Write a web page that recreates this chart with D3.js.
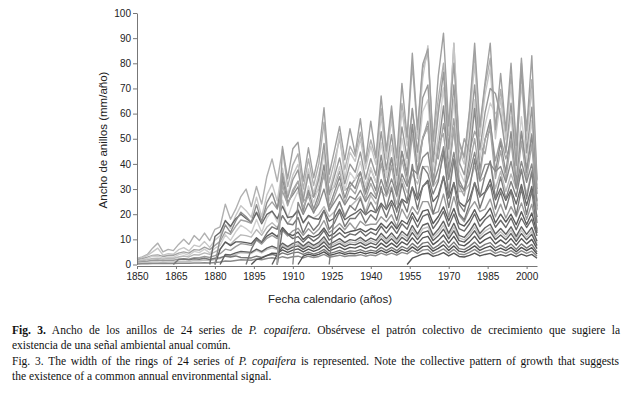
<!DOCTYPE html>
<html>
<head>
<meta charset="utf-8">
<script src="https://cdn.jsdelivr.net/npm/d3@7"></script>
<style>
  body { margin: 0; background: #fff; }
  svg { display: block; }
</style>
</head>
<body>
<svg id="chart" width="633" height="396"></svg>
<script>
// ring width (mm/año) of each series, one value every 2 years from its first year
var s01 = [2.4,3,4,6.5,8.5,5,6,5.5,8,10, 8,11.5,9.5,12.5,9.5,14,15,24,18,22, 27,30,23,31,24,35,42,33,46,31,
  39.6,44,30,42,31.4,40,56.6,32.6,41,50, 37.8,47,43,52.6,40,49.5,42,62,44,60.7, 41.6,64,49.7,79.5,52.6,78,84,48,66,80,
  54,88,48,42,60,84,53.6,71,82,52.6, 69.6,52,75,46,75,52,73.5,33];
var s02 = [2.2,2.7,3.6,5,6.5,3.7,4.3,4.1,5.9,6.7, 5.4,7.7,7.1,9.1,6.8,9.7,11.4,17.6,14.4,19.4, 23.4,21.4,18.8,26.8,19,27.7,32,25.3,38.3,27.9,
  35.6,39.8,27.1,38,28.3,36,45,29.3,37.1,52, 34,44.6,41,50,38,47,39.7,59,42,57.7, 39.5,61,47.2,60,50,74,87,45.6,62.7,70,
  51.3,88,45.6,39.9,57,79.8,50.9,67.5,78.2,50, 66,49.6,71.6,44,71.6,49.6,69.8,31.4];
var s03 = [2,2.3,2.9,3.6,3.8,3.2,3.6,3.6,4.5,5, 4.5,5.9,5.7,6.9,5.9,7.6,9.2,13,12,15.2, 17.7,17.2,16.4,20.9,17.4,22.3,24.9,22,29,24.2,
  28.7,33,24.8,28,27,30,35,29,30.9,37, 29.6,31,34,36.8,29,38,32.7,40,36,42.5, 36,45,37,55,41.2,50,57,45,42,56,
  44,58,39.6,50,45,53,48,44,56,41.2, 50,42,49,40,53,39,52,30];
var s04 = [1.4,1.8,2.4,3.3,3.3,2.5,2.9,2.8,3.9,4.4, 3.6,5.2,4.7,6.1,4.6,6.5,7.6,11.8,9.6,13, 15.6,14.3,12.5,17.9,12.7,18.5,21.3,16.9,25.6,18.6,
  24.6,29.2,21.1,31.2,24.5,31.2,44.1,25.4,32.1,38.9, 29.5,36.6,33.7,41,31.2,38.6,32.6,48.4,34.6,47.3, 32.4,50.2,38.8,62,41,60.8,65.5,37.4,51.5,70.2,
  42.1,65.5,37.4,32.8,46.8,65.5,41.8,55.4,64.2,60, 62,45,58.8,36.2,58.8,40.7,57.3,25.7];
var s05 = [1.3,1.6,1.9,2.4,2.5,2.1,2.4,2.4,3,3.4, 3,3.9,3.8,4.6,4,5,6.1,8.7,8,10.1, 11.8,11.5,10.9,13.9,11.6,14.9,16.6,14.7,19.4,16.2,
  19.1,22,16.6,19,18.5,20,23,19,21,24.5, 19.8,23,25,27,21,27.5,24,29,27,31.2, 24,34,28.5,36,32,38.9,39,31,34,44,
  30,42,29,29,32,39,33,35,41,30.2, 37,29,36,30,38,28,37.5,22];
var s06 = [0.9,1.1,1.3,1.7,1.8,1.5,1.7,1.7,2.1,2.3, 2.1,2.7,2.7,3.2,2.8,3.5,4.3,6.1,5.6,7.1, 8.3,8,7.6,9.7,8.1,10.4,11.6,10.3,13.5,11.3,
  13.4,14.4,11.6,14.2,12.1,14,17.5,12.6,14.4,16.3, 13.8,16.5,14,17.2,15.5,16,16,19,17,19.8, 15,22,18.2,23,20,25,25,20,21,28,
  19,27,19.5,17,22,25,21,22,26,19, 24,18.5,23,19,24.5,18,24,14];
var s07 = [0.5,0.6,0.8,1,1,0.8,1,1,1.2,1.3, 1.2,1.6,1.5,1.8,1.6,2,2.4,3.5,3.2,4, 4.7,4.6,4.4,5.6,4.6,5.9,6.6,5.9,7.7,6.5,
  7.6,8.2,6.6,8.1,6.9,8,10,7.2,8.2,9.3, 7.9,9,8.6,9.8,8.3,9.5,8.7,11.3,9.2,11.3, 9.2,12,10.4,14.1,11,14.2,14.9,10.6,12.7,15.6,
  11.3,14.9,10.6,9.8,12,14.9,11.2,13.3,14.6,11, 13,10.9,13.7,10.2,13.7,10.9,13.3,8.4];
var s08 = [0.2,0.3,0.3,0.4,0.4,0.4,0.4,0.4,0.5,0.5, 0.5,0.6,0.6,0.7,0.6,0.8,1,1.4,1.3,1.6, 1.9,1.8,1.7,2.2,1.9,2.4,2.7,2.3,3.1,2.6,
  3.1,3.3,2.6,3.3,2.8,3.2,4,2.9,3.3,3.7, 3.2,3.6,3.5,3.9,3.3,3.8,3.5,4.5,3.7,4.5, 3.7,4.8,4.2,5.6,4.4,5.7,6,4.2,5.1,6.2,
  4.5,6,4.2,3.9,4.8,6,4.5,5.3,5.8,4.4, 5.2,4.4,5.5,4.1,5.5,4.4,5.3,3.3];
var s09 = [0,2,2.2, 1.9,2.3,2.1,2.5,2,2.5,2.7,3.3,3,3.4, 2.8,2.7,2.6,3.3,2.8,3.6,4,3.5,4.6,3.9,
  4.6,4.9,4,4.9,4.1,4.8,6,4.3,4.9,5.6, 4.7,5.4,5.2,5.9,5,5.7,5.2,6.8,5.5,6.8, 5.5,7.2,6.2,8.4,6.6,8.5,8.9,6.3,7.6,9.4,
  6.8,8.9,6.3,5.9,7.2,8.9,6.7,8,8.7,6.6, 7.8,6.5,8.2,6.1,8.2,6.5,8,5];
var s10 = [0,11.1,12.8,17.4,15.2,18.2, 20,18.3,16.8,20.6,16.2,19.9,21.2,18.2,23.2,18.7,
  19.1,21.5,16.6,19.5,18.3,18,21.5,17.2,18.5,22, 17.8,19.3,20.4,22.1,19.8,21.5,20.6,24.4,21.8,25.5,
  21.6,26,24.4,30.7,25.7,30.9,33.5,25,27.6,35.1, 26.4,32.5,24.8,23.1,26,32.5,27,28.8,33.8,25.7,
  30.3,25.5,29.8,24,31.8,23.5,31,18.8];
var s11 = [0,6,9,7.5,9, 9,8.7,8.3,10.6,8.8,11.3,12.6,11.1,14.7,12.3,
  11.5,12.9,9.9,11.7,10.9,12,14.5,11.3,12.4,14.5, 12.4,13.1,13.5,14.2,13,14.3,13.6,16.4,14.4,17,
  14.2,17.5,16.1,20.6,17,21.2,21.8,16.3,19.1,22.9, 17.4,22.3,16.3,15.3,18,21.8,17.3,19.4,22.4,16.5,
  20,16.9,20,15.8,21,15.9,20.5,12.5];
var s12 = [0,10.2,15.7,12.8,17.3, 20.8,19,16.7,23.8,16.9,24.6,28.4,22.5,34.1,24.8,
  27.7,30.9,21.1,29.5,22,28,39.6,22.8,28.8,34.9, 26.5,32.8,30.2,36.8,28,34.7,29.3,43.5,31,42.5,
  29.1,45,34.8,55.7,36.8,50,55,33.6,46.2,63, 37.8,54,33.6,29.4,42,62,37.5,49.7,57.6,36.8,
  48.7,36.5,52.8,32.5,52.8,36.5,51.5,23.1];
var s13 = [0,4,3.8,4.6, 5.2,5,4.8,6.1,5.1,6.5,7.3,6.4,8.5,7.1,
  8.4,9.1,7.3,9,7.6,8.8,11,7.9,9.1,10.3, 8.7,9.9,9.5,10.8,9.2,10.5,9.6,12.4,10.2,12.5,
  10.1,13.2,11.4,15.5,12.1,15.6,16.4,11.6,14,17.2, 12.4,16.4,11.6,10.8,13.2,16.4,12.3,14.6,16,12.1,
  14.3,12,15,11.2,15,12,14.7,9.2];
var s14 = [0,6,10,9,12.5,15,14,19.4,16.2,
  15.8,18.7,12.5,16.9,13.6,16,21.6,14,16.5,21, 15.1,18.3,18.3,21,16.5,19.8,17.7,23.8,18.7,24.3,
  17.6,25.7,20.9,30.8,22,31.2,32.6,20.2,26.4,35, 22.6,32.6,20.2,17.8,24,32.6,22.4,28.4,31.9,22,
  28.8,21.9,29.2,19.6,30.2,19.9,29.4,13.2];
var s15 = [0,2,2.5,3.5,4.5,4.4,5.8,4.8,
  5.7,6.2,5,6.1,5.2,6,7.5,5.4,6.2,7, 5.9,6.8,6.5,7.4,6.3,7.2,6.5,8.5,6.9,8.5,
  6.9,9,7.8,10.6,8.2,10.6,11.2,7.9,9.5,11.7, 8.5,11.2,7.9,7.4,9,11.2,8.4,9.9,10.9,8.2,
  9.8,8.2,10.3,7.7,10.3,8.2,10,6.3];
var s16 = [0,36.2,26.4,
  33.7,37.6,25.6,35.9,26.7,34,48.1,27.7,35,42.4, 32.1,39.9,36.7,44.7,34,42.1,35.5,52.8,37.7,51.6,
  35.4,54.7,42.2,62,44.7,66.3,71.4,40.8,60,76.5, 45.9,71.4,40.8,35.7,51,71.4,45.6,60.4,70,68,
  59.2,44.4,64.1,39.4,80,44.4,62.5,28];
var s17 = [0,32,23.3,
  29.7,33.2,22.6,27.4,20.4,26,36.8,21.2,26.8,32.4, 24.6,30.5,28.1,34.2,26,32.2,27.2,40.4,28.8,39.5,
  27,41.8,32.3,51.7,34.2,50.7,54.6,31.2,48,52, 35.1,54.6,31.2,27.3,39,50,34.8,50,53.5,34.2,
  45.2,33.9,49,30.2,49,33.9,47.8,21.5];
var s18 = [0,14,12,
  10.3,11.1,8.9,11,9.3,10.8,13.5,9.7,11.1,12.6, 10.7,12.2,11.7,13.3,11.3,12.9,11.8,15.2,12.5,15.3,
  12.4,16.2,14,19,14.8,19.1,20.1,14.3,17.2,21.1, 15.2,20.1,14.3,13.3,16.2,20.1,15.1,17.9,19.7,14.8,
  17.6,14.7,18.5,13.8,18.5,14.7,18,11.3];
var s19 = [0,4,7,5.8,
  6.9,7.4,6,7.3,6.2,7.2,9,6.5,7.4,8.4, 7.1,8.1,7.8,8.8,7.5,8.6,7.8,10.2,8.3,10.2,
  8.2,10.8,9.3,12.7,9.9,12.7,13.4,9.5,11.4,14, 10.2,13.4,9.5,8.9,10.8,13.4,10.1,11.9,13.1,9.9,
  11.7,9.8,12.3,9.2,12.3,9.8,12,7.5];
var s20 = [0,46.9,34.1,
  46,48.6,33.1,46.4,34.5,44,62.3,35.9,45.3,54.9, 41.6,54,44.1,58,40.8,57,42.6,67,45.2,63,
  42.4,72,50.7,84,53.7,79.6,85.7,49,75,92, 55.1,80,49,42.8,61.2,88,54.7,72.4,88,53.7,
  76,53.2,80,47.3,82,53.2,83,33.7];
var s21 = [0,3.3,4.1,3.5,4,5,3.6,4.1,4.7,
  4,4.5,4.3,4.9,4.2,4.8,4.4,5.6,4.6,5.7, 4.6,6,5.2,7,5.5,7.1,7.4,5.3,6.4,7.8,
  5.6,7.4,5.3,4.9,6,7.4,5.6,6.6,7.3,5.5, 6.5,5.5,6.8,5.1,6.8,5.5,6.7,4.2];
var s22 = [0,24.7,19.9,24.4,20.7,24,30,21.5,24.7,28,
  23.7,27.1,25.9,29.5,25,28.6,26.2,33.8,27.7,34, 27.5,36,31.1,38,36,42.5,44.6,31.7,38.2,46.8,
  33.8,44.6,31.7,29.5,36,44.6,33.6,39.8,40,37, 39,32.7,41,30.6,41,32.7,40,25.1];
var s23 = [0,2.5,3.3,4.2,4.5,3.2,3.8,4.7,
  3.4,4.5,3.2,3,3.6,4.5,3.4,4,4.4,3.3, 3.9,3.3,4.1,3.1,4.1,3.3,4,2.5];
var s24 = [0,20.6,25,
  18.9,23.5,21.6,26.3,20,24.8,20.9,31,22.2,30.4, 20.8,32.2,24.9,39.8,26.3,39,36,28,33,45,
  27,42,24,21,30,42,26.8,35.5,41.2,26.3, 34.8,26.1,33,27,37.7,26.1,36.8,16.5];

var firstYears = [1850,1850,1850,1850,1850,1850,1850,1850,1864,1878,1880,1880,
                  1882,1892,1894,1904,1904,1904,1902,1904,1912,1910,1954,1924];
var yearStep = 2;

var xTickYears = [1850,1865,1880,1895,1910,1925,1940,1955,1970,1985,2000];
var yTickValues = [0,10,20,30,40,50,60,70,80,90,100];

make_ring_chart = function () {

    var allSeries = [s01,s02,s03,s04,s05,s06,s07,s08,s09,s10,s11,s12,
                     s13,s14,s15,s16,s17,s18,s19,s20,s21,s22,s23,s24];

    // grey of each line, light ones first so the dark ones lie on top
    var greys = ["#b0b0b0","#c6c6c6","#a2a2a2","#cfcfcf","#b8b8b8","#9a9a9a","#c2c2c2","#8a8a8a",
                 "#777777","#666666","#5a5a5a","#8c8c8c","#606060","#777777","#555555","#999999",
                 "#a6a6a6","#6b6b6b","#5e5e5e","#a0a0a0","#4f4f4f","#8a8a8a","#555555","#808080"];

    var data = allSeries.map(function (vals, i) {
        return vals.map(function (v, j) {
            return { year: firstYears[i] + j * yearStep, value: v };
        });
    });

    var width = 633;
    var height = 396;
    var margin = ({ top: 13, right: 96, bottom: 131, left: 137 });

    var x = d3.scaleLinear()
        .domain([1850, 2004])
        .range([margin.left, width - margin.right]);

    var y = d3.scaleLinear()
        .domain([0, 100])
        .range([height - margin.bottom - 0.5, margin.top]);

    var svg = d3.select("#chart")
        .attr("viewBox", [0, 0, width, height]);

    svg.append("rect")
        .attr("width", width)
        .attr("height", height)
        .attr("fill", "#fff");

    var line = d3.line()
        .x(d => x(d.year))
        .y(d => y(d.value));

    svg.append("g")
        .attr("fill", "none")
        .attr("stroke-width", 1.4)
        .attr("stroke-linejoin", "round")
        .selectAll("path")
        .data(data)
        .join("path")
        .attr("stroke", (d, i) => greys[i])
        .attr("d", line);

    var xAxis = g => g
        .attr("transform", `translate(0,${height - margin.bottom + 1})`)
        .call(d3.axisBottom(x).tickValues(xTickYears).tickFormat(d3.format("d"))
            .tickSize(3).tickSizeOuter(0).tickPadding(4))
        .call(g => g.selectAll("text").attr("font-size", 10).attr("fill", "#222"))
        .call(g => g.selectAll("line, .domain").attr("stroke", "#777"));

    var yAxis = g => g
        .attr("transform", `translate(${margin.left},0)`)
        .call(d3.axisLeft(y).tickValues(yTickValues).tickSize(4).tickSizeOuter(0).tickPadding(2))
        .call(g => g.selectAll("text").attr("font-size", 10).attr("fill", "#222"))
        .call(g => g.selectAll("line, .domain").attr("stroke", "#777"));

    svg.append("g").attr("font-family", "Liberation Sans, Arial, sans-serif").call(xAxis);
    svg.append("g").attr("font-family", "Liberation Sans, Arial, sans-serif").call(yAxis);

    svg.append("text")
        .attr("x", 330)
        .attr("y", 303)
        .attr("text-anchor", "middle")
        .attr("font-family", "Liberation Sans, Arial, sans-serif")
        .attr("font-size", 11.5)
        .attr("fill", "#222")
        .text("Fecha calendario (años)");

    svg.append("text")
        .attr("transform", "translate(107,140) rotate(-90)")
        .attr("text-anchor", "middle")
        .attr("font-family", "Liberation Sans, Arial, sans-serif")
        .attr("font-size", 11.5)
        .attr("fill", "#222")
        .text("Ancho de anillos (mm/año)");

    // caption, first and third lines justified by stretching the word gaps
    var cap = svg.append("g")
        .attr("font-family", "Liberation Serif, Times New Roman, serif")
        .attr("font-size", 11.5)
        .attr("fill", "#111");

    var justify = function (t, target) {
        var len = t.node().getComputedTextLength();
        var gaps = t.text().split(" ").length - 1;
        t.attr("word-spacing", ((target - len) / gaps).toFixed(2));
    };

    var l1 = cap.append("text").attr("x", 12).attr("y", 334);
    l1.append("tspan").attr("font-weight", "bold").text("Fig. 3.");
    l1.append("tspan").text(" Ancho de los anillos de 24 series de ");
    l1.append("tspan").attr("font-style", "italic").text("P. copaifera");
    l1.append("tspan").text(". Obsérvese el patrón colectivo de crecimiento que sugiere la");
    justify(l1, 608);

    cap.append("text").attr("x", 12).attr("y", 349)
        .text("existencia de una señal ambiental anual común.");

    var l3 = cap.append("text").attr("x", 12).attr("y", 365);
    l3.append("tspan").text("Fig. 3. The width of the rings of 24 series of ");
    l3.append("tspan").attr("font-style", "italic").text("P. copaifera");
    l3.append("tspan").text(" is represented. Note the collective pattern of growth that suggests");
    justify(l3, 607);

    cap.append("text").attr("x", 12).attr("y", 380)
        .text("the existence of a common annual environmental signal.");
}

make_ring_chart();
</script>
</body>
</html>
